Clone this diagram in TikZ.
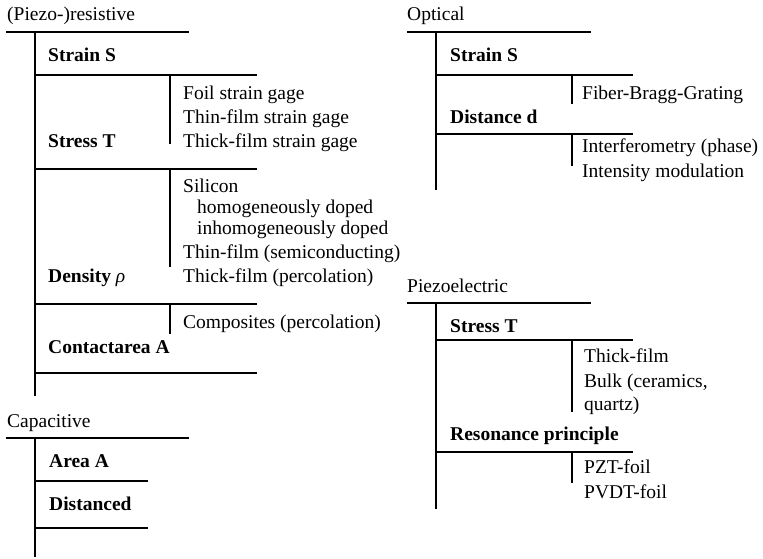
\documentclass[tikz,border=0pt]{standalone}
\usepackage{fontspec}
\setmainfont{Liberation Serif}
\begin{document}
\begin{tikzpicture}[x=1pt,y=-1pt,
  txt/.style={anchor=base west,inner sep=0pt,font=\fontsize{19.5}{23}\selectfont},
  hd/.style={txt,font=\fontsize{19.5}{23}\selectfont\bfseries},
  ln/.style={line width=2pt}]
\useasboundingbox (0,0) rectangle (763,559);
% ---------- (Piezo-)resistive
\node[txt] (pr) at (7,21) {(Piezo-)resistive};
\draw[ln] (6,32) -- (189,32);
\draw[ln] (35,32) -- (35,396);
\node[hd] (prs) at (48,62) {Strain S};
\draw[ln] (35,75) -- (257,75);
\draw[ln] (170,75) -- (170,144);
\node[txt] (f1) at (183,100) {Foil strain gage};
\node[txt] (f2) at (183,124) {Thin-film strain gage};
\node[txt] (f3) at (183,148) {Thick-film strain gage};
\node[hd] (prt) at (48,148) {Stress T};
\draw[ln] (35,169) -- (257,169);
\draw[ln] (170,169) -- (170,267);
\node[txt] (d1) at (183,192) {Silicon};
\node[txt] (d2) at (197,213) {homogeneously doped};
\node[txt] (d3) at (197,234) {inhomogeneously doped};
\node[txt] (d4) at (183,258) {Thin-film (semiconducting)};
\node[txt] (d5) at (183,282) {Thick-film (percolation)};
\node[hd] (prd) at (48,282) {Density \textit{\mdseries ρ}};
\draw[ln] (35,304) -- (257,304);
\draw[ln] (170,304) -- (170,334);
\node[txt] (c1) at (183,328) {Composites (percolation)};
\node[hd] (prc) at (48,353) {Contactarea A};
\draw[ln] (35,373) -- (257,373);
% ---------- Capacitive
\node[txt] (ca) at (7,427) {Capacitive};
\draw[ln] (6,438) -- (189,438);
\draw[ln] (35,438) -- (35,557);
\node[hd] (caa) at (49,467) {Area A};
\draw[ln] (35,481) -- (148,481);
\node[hd] (cad) at (49,510) {Distanced};
\draw[ln] (35,528) -- (148,528);
% ---------- Optical
\node[txt] (op) at (407,21) {Optical};
\draw[ln] (407,32) -- (591,32);
\draw[ln] (436,32) -- (436,190);
\node[hd] (ops) at (450,62) {Strain S};
\draw[ln] (436,75) -- (633,75);
\draw[ln] (572,75) -- (572,104);
\node[txt] (o1) at (582,100) {Fiber-Bragg-Grating};
\node[hd] (opd) at (450,124) {Distance d};
\draw[ln] (436,134) -- (633,134);
\draw[ln] (572,134) -- (572,166);
\node[txt] (o2) at (582,153) {Interferometry (phase)};
\node[txt] (o3) at (582,177) {Intensity modulation};
% ---------- Piezoelectric
\node[txt] (pe) at (407,292) {Piezoelectric};
\draw[ln] (407,303) -- (591,303);
\draw[ln] (436,303) -- (436,509);
\node[hd] (pet) at (450,332) {Stress T};
\draw[ln] (436,340) -- (633,340);
\draw[ln] (572,340) -- (572,412);
\node[txt] (p1) at (584,362) {Thick-film};
\node[txt] (p2) at (584,387) {Bulk (ceramics,};
\node[txt] (p3) at (584,410) {quartz)};
\node[hd] (per) at (450,440) {Resonance principle};
\draw[ln] (436,452) -- (633,452);
\draw[ln] (572,452) -- (572,483);
\node[txt] (p4) at (584,473) {PZT-foil};
\node[txt] (p5) at (584,498) {PVDT-foil};
\end{tikzpicture}
\end{document}
